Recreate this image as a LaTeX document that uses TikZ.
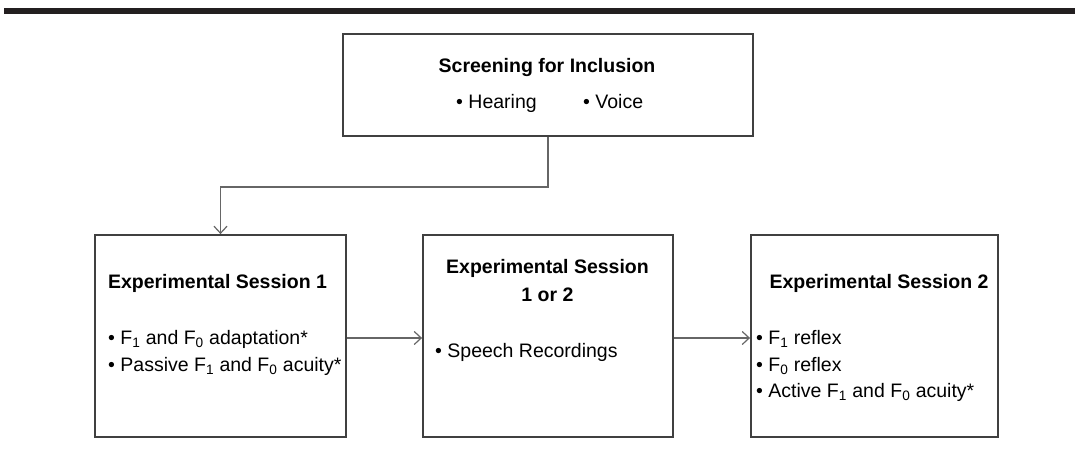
\documentclass[tikz,border=0pt]{standalone}
\usepackage{fontspec}
\setmainfont{Liberation Sans}
\usetikzlibrary{arrows.meta}
\newcommand{\myidx}[1]{\textsubscript{#1}}
\begin{document}
\begin{tikzpicture}[x=1pt,y=-1pt,
  box/.style={draw=black!75,line width=1.8pt,minimum height=202pt,inner sep=0pt},
  conn/.style={draw=black!60,line width=1.2pt},
  arr/.style={conn,-{Straight Barb[length=7pt,width=13pt,line width=1.2pt]}},
  ttl/.style={anchor=base,font=\fontsize{19.5}{27.5}\selectfont\bfseries,inner sep=0pt},
  txt/.style={anchor=base west,font=\fontsize{19.5}{27.5}\selectfont,inner sep=0pt}]
\useasboundingbox (0,0) rectangle (1075,449);
\fill[fill={rgb,255:red,35;green,31;blue,32}] (4,8) rectangle (1075,14);
% boxes
\node[box,minimum width=410pt,minimum height=102pt] (top) at (548,85) {};
\node[box,minimum width=251pt] (b1) at (220.5,336) {};
\node[box,minimum width=250pt] (b2) at (548,336) {};
\node[box,minimum width=247pt] (b3) at (874.5,336) {};
% texts
\node[ttl] (t0) at (547,73) {Screening for Inclusion};
\node[txt] (t0a) at (456,109) {• Hearing};
\node[txt] (t0b) at (583,109) {• Voice};
\node[ttl] (t1) at (217.5,288) {Experimental Session 1};
\node[txt] (t1a) at (108,344) {• F\myidx{1} and F\myidx{0} adaptation*};
\node[txt] (t1b) at (108,371) {• Passive F\myidx{1} and F\myidx{0} acuity*};
\node[ttl] (t2) at (547.5,273) {Experimental Session};
\node[ttl] (t2b) at (547.5,301) {1 or 2};
\node[txt] (t2a) at (435,357) {• Speech Recordings};
\node[ttl] (t3) at (879,288) {Experimental Session 2};
\node[txt] (t3a) at (756,344) {• F\myidx{1} reflex};
\node[txt] (t3b) at (756,371) {• F\myidx{0} reflex};
\node[txt] (t3c) at (756,397) {• Active F\myidx{1} and F\myidx{0} acuity*};
% connectors
\coordinate (bend) at (0,187);
\coordinate (ay) at (0,338);
\draw[arr] (top.south) -- (top.south |- bend) -| (b1.north);
\draw[arr] (b1.east |- ay) -- (b2.west |- ay);
\draw[arr] (b2.east |- ay) -- (b3.west |- ay);
\end{tikzpicture}
\end{document}
